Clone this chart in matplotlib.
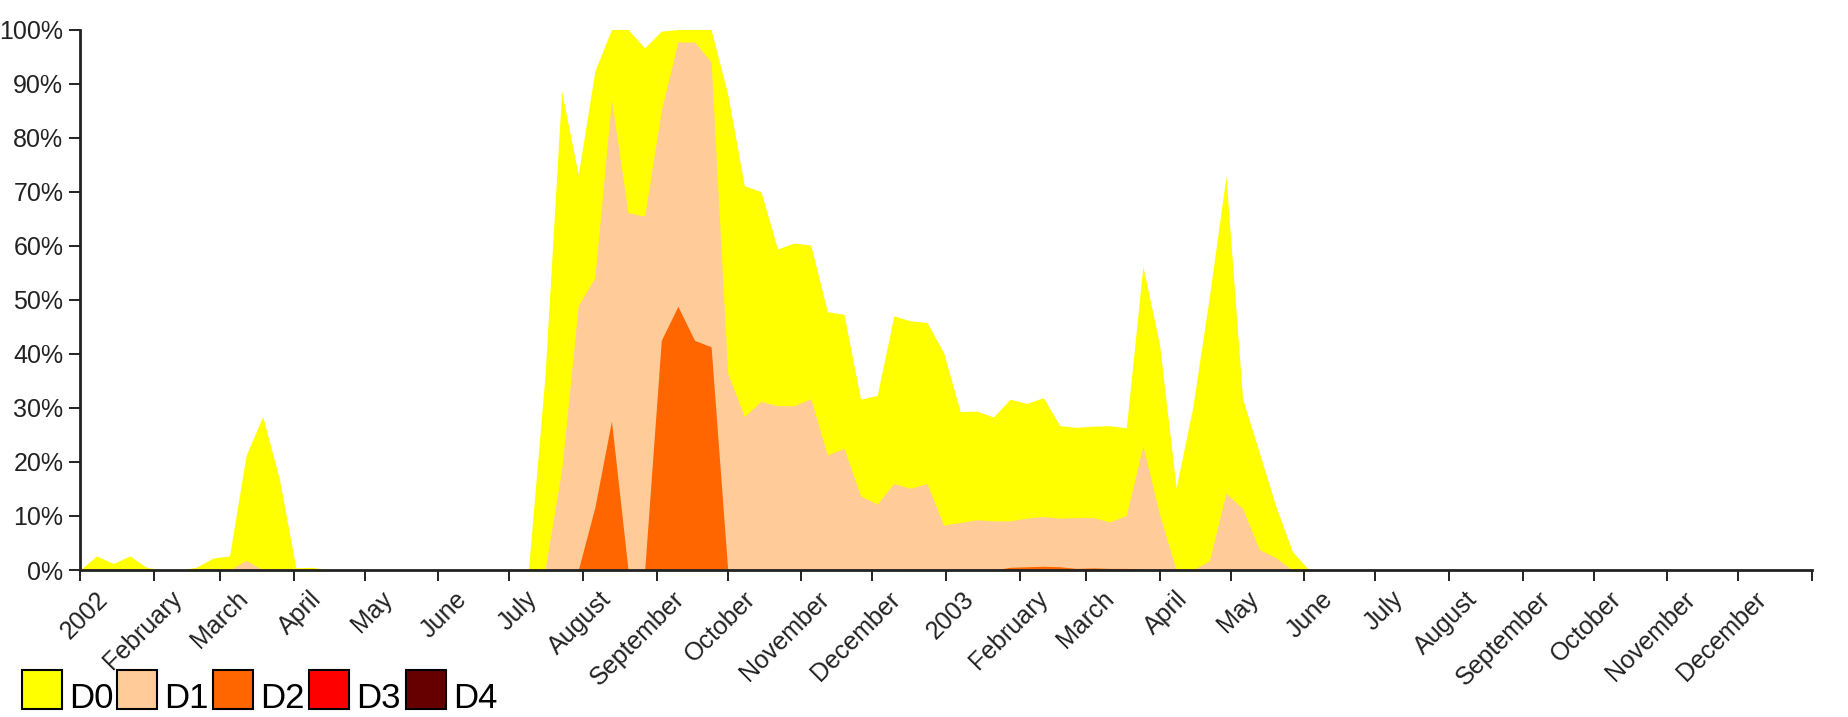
import matplotlib
matplotlib.use("Agg")
import matplotlib.pyplot as plt
from matplotlib.patches import Rectangle
from matplotlib.transforms import ScaledTranslation
import pandas as pd


# weekly percent of area in each category or worse (Tuesdays from 2002-01-01)
d0 = [0, 2.6, 1.2, 2.6, 0.5, 0, 0, 0.5, 2.2, 2.6,
      21.2, 28.4, 16.9, 0.4, 0.5, 0, 0, 0, 0, 0,
      0, 0, 0, 0, 0, 0, 0, 0, 36, 88.6,
      73.1, 92.3, 100, 100, 96.6, 99.7, 100, 100, 100, 88,
      71.1, 70, 59.4, 60.5, 60.1, 47.8, 47.3, 31.6, 32.3, 47,
      46.1, 45.8, 40.2, 29.3, 29.4, 28.3, 31.6, 30.8, 31.9, 26.7,
      26.4, 26.6, 26.7, 26.3, 56.2, 41.7, 15.2, 30.1, 50.6, 72.8,
      31.7, 21.8, 11.8, 3.4, 0, 0, 0, 0, 0, 0,
      0, 0, 0, 0, 0, 0, 0, 0, 0, 0,
      0, 0, 0, 0, 0, 0, 0, 0, 0, 0,
      0, 0, 0, 0, 0]
d1 = [0, 0, 0, 0, 0, 0, 0, 0, 0, 0,
      1.8, 0, 0, 0, 0, 0, 0, 0, 0, 0,
      0, 0, 0, 0, 0, 0, 0, 0, 0, 18.5,
      48.9, 54.1, 87, 66.1, 65.5, 85, 97.7, 97.7, 94, 36.4,
      28.4, 31.2, 30.4, 30.4, 31.7, 21.3, 22.5, 13.7, 12.2, 16,
      15.1, 16, 8.3, 8.8, 9.3, 9.1, 9.1, 9.6, 9.9, 9.6,
      9.7, 9.7, 8.9, 10.1, 23, 10.3, 0, 0, 1.7, 14.2,
      11.4, 3.8, 2.3, 0, 0, 0, 0, 0, 0, 0,
      0, 0, 0, 0, 0, 0, 0, 0, 0, 0,
      0, 0, 0, 0, 0, 0, 0, 0, 0, 0,
      0, 0, 0, 0, 0]
d2 = [0, 0, 0, 0, 0, 0, 0, 0, 0, 0,
      0, 0, 0, 0, 0, 0, 0, 0, 0, 0,
      0, 0, 0, 0, 0, 0, 0, 0, 0, 0,
      0, 11.6, 27.6, 0, 0, 42.5, 48.8, 42.5, 41.3, 0,
      0, 0, 0, 0, 0, 0, 0, 0, 0, 0,
      0.2, 0, 0, 0, 0, 0, 0.5, 0.6, 0.7, 0.6,
      0.3, 0.4, 0.3, 0.3, 0.2, 0, 0, 0, 0, 0,
      0, 0, 0, 0, 0, 0, 0, 0, 0, 0,
      0, 0, 0, 0, 0, 0, 0, 0, 0, 0,
      0, 0, 0, 0, 0, 0, 0, 0, 0, 0,
      0, 0, 0, 0, 0]
d3 = [0] * 105
d4 = [0] * 105

categories = ["D0", "D1", "D2", "D3", "D4"]
colors = ["#ffff00", "#ffcc99", "#ff6600", "#ff0000", "#660000"]
month_labels = ["2002", "February", "March", "April", "May", "June", "July",
                "August", "September", "October", "November", "December",
                "2003", "February", "March", "April", "May", "June", "July",
                "August", "September", "October", "November", "December", ""]

dates = pd.date_range("2002-01-01", periods=len(d0), freq="7D")
month_ticks = pd.date_range("2002-01-01", "2004-01-01", freq="MS")

W, H = 1849, 717
fig = plt.figure(figsize=(W / 100, H / 100), dpi=100)
ax = fig.add_axes([80 / W, 1 - 570 / H, (1812 - 80) / W, (570 - 29.5) / H])

for vals, c in zip([d0, d1, d2, d3, d4], colors):
    ax.fill_between(dates, 0, vals, color=c, linewidth=0)

ax.set_xlim(month_ticks[0], month_ticks[-1])
ax.set_ylim(0, 100)
ax.set_yticks(range(0, 101, 10))
ax.set_yticklabels([f"{v}%" for v in range(0, 101, 10)])
ax.set_xticks(month_ticks)
ax.set_xticklabels(month_labels, rotation=45, ha="right", va="top",
                   rotation_mode="anchor")

for s in ["top", "right"]:
    ax.spines[s].set_visible(False)
for s in ["left", "bottom"]:
    ax.spines[s].set_linewidth(2)
    ax.spines[s].set_color("#222222")
ax.tick_params(length=8, width=1.4, color="#222222", labelcolor="#222222",
               labelsize=18, pad=4, labelfontfamily="Liberation Sans")

# nudge the rotated month labels to the right, like the original
shift = ScaledTranslation(16 / 100, 0, fig.dpi_scale_trans)
for lab in ax.get_xticklabels():
    lab.set_transform(lab.get_transform() + shift)

# legend row under the axis
leg_x = [22, 117, 213, 309, 406]
for x, name, c in zip(leg_x, categories, colors):
    fig.patches.append(Rectangle((x / W, 1 - 709 / H), 40 / W, 39 / H,
                                 transform=fig.transFigure, facecolor=c,
                                 edgecolor="black", linewidth=1.5))
    fig.text((x + 47) / W, 1 - 708 / H, name, fontsize=25,
             family=["Liberation Sans Narrow", "Liberation Sans"],
             va="baseline", ha="left", color="black")

fig.savefig("out.png", dpi=100)
